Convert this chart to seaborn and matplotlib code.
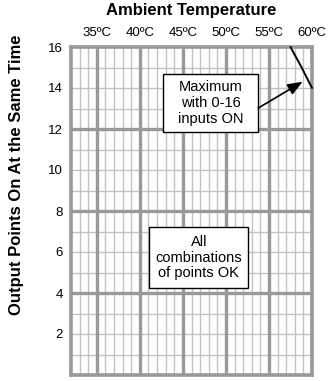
import matplotlib
matplotlib.use("Agg")
import matplotlib.pyplot as plt
from matplotlib.patches import Rectangle
import numpy as np
import pandas as pd
import seaborn as sns

# Derating curve: maximum outputs ON versus ambient temperature
temps_c = [57.5, 58.8, 60.0]
max_points_on = [16.0, 15.0, 14.0]

temp_ticks = [35, 40, 45, 50, 55, 60]
temp_labels = ["35ºC", "40ºC", "45ºC", "50ºC", "55ºC", "60ºC"]
point_ticks = [2, 4, 6, 8, 10, 12, 14, 16]

sns.set_style("white")
plt.rcParams["font.family"] = ["Liberation Sans", "DejaVu Sans"]
plt.rcParams["text.color"] = "black"
plt.rcParams["xtick.color"] = "black"
plt.rcParams["ytick.color"] = "black"

W, H = 328, 381
fig = plt.figure(figsize=(W / 100, H / 100), dpi=100)
ax = fig.add_axes([71 / W, 1 - 375 / H, (312 - 71) / W, (375 - 47) / H])

ax.set_xlim(32, 60)
ax.set_ylim(0, 16)

major_c = "#999999"
minor_c = "#c2c2c2"
for t in range(33, 60):
    if t % 5:
        ax.axvline(t, color=minor_c, lw=1.0, zorder=1)
for v in range(1, 16):
    if v % 4:
        ax.axhline(v, color=minor_c, lw=1.0, zorder=1)
for t in temp_ticks[:-1]:
    ax.axvline(t, color=major_c, lw=2.4, zorder=2)
for v in [4, 8, 12]:
    ax.axhline(v, color=major_c, lw=2.4, zorder=2)
for s in ax.spines.values():
    s.set_color(major_c)
    s.set_linewidth(2.6)

df = pd.DataFrame({"temp": temps_c, "points": max_points_on})
sns.lineplot(data=df, x="temp", y="points", ax=ax, color="black", lw=1.4,
             zorder=5, clip_on=False)

ax.xaxis.tick_top()
ax.set_xticks(temp_ticks)
ax.set_xticklabels(temp_labels, fontsize=9.5)
ax.set_yticks(point_ticks)
ax.set_yticklabels([str(v) for v in point_ticks], fontsize=9.5)
ax.tick_params(axis="both", length=0, pad=6)
ax.set_xlabel("")
ax.set_ylabel("")

fig.text((71 + 312) / 2 / W, 1 - 11 / H, "Ambient Temperature", ha="center",
         va="center", fontsize=12, fontweight="bold")
fig.text(17 / W, 1 - 174.5 / H, "Output Points On At the Same Time",
         ha="center", va="center", rotation=90, fontsize=12, fontweight="bold")

# Note boxes
ax.add_patch(Rectangle((42.65, 11.85), 11.1, 2.85, facecolor="white",
                       edgecolor="black", lw=1.0, zorder=6))
ax.text(48.2, 13.27, "Maximum\nwith 0-16\ninputs ON", ha="center", va="center",
        fontsize=10.5, linespacing=1.15, zorder=7)
ax.add_patch(Rectangle((41.1, 4.23), 11.5, 2.97, facecolor="white",
                       edgecolor="black", lw=1.0, zorder=6))
ax.text(46.85, 5.72, "All\ncombinations\nof points OK", ha="center",
        va="center", fontsize=10.5, linespacing=1.15, zorder=7)

ax.annotate("", xy=(58.92, 14.31), xytext=(53.75, 13.02),
            arrowprops=dict(arrowstyle="-|>,head_length=0.9,head_width=0.35",
                            color="black", lw=1.2, shrinkA=0, shrinkB=0),
            zorder=8)

fig.savefig("out.png", dpi=100)
